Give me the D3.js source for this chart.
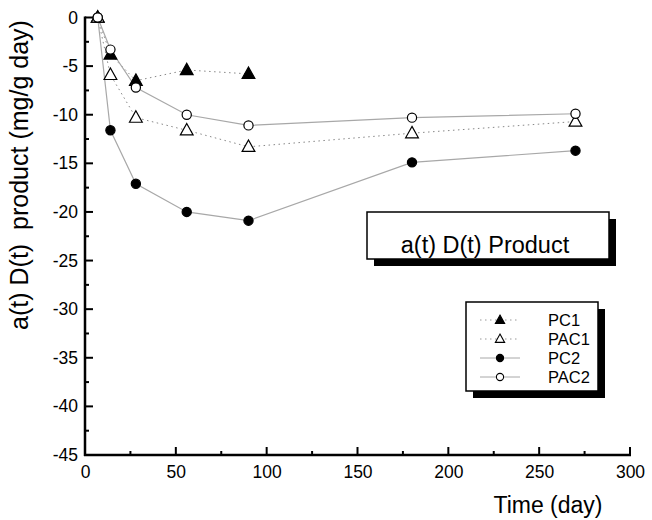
<!DOCTYPE html>
<html>
<head>
<meta charset="utf-8">
<script src="https://cdn.jsdelivr.net/npm/d3@7"></script>
<style>
  body { margin: 0; background: #fff; }
  svg { display: block; font-family: "Liberation Sans", Arial, sans-serif; }
</style>
</head>
<body>
<div class="chart"></div>
<script>
// 데이터
const days = [7, 14, 28, 56, 90, 180, 270];
const seriesNames = ['PC1', 'PAC1', 'PC2', 'PAC2'];
const pc1 = [0, -3.8, -6.5, -5.4, -5.8];
const pac1 = [0, -5.9, -10.3, -11.6, -13.3, -11.9, -10.7];
const pc2 = [0, -11.6, -17.1, -20.0, -20.9, -14.9, -13.7];
const pac2 = [0, -3.3, -7.2, -10.0, -11.1, -10.3, -9.9];
const xTicks = [0, 50, 100, 150, 200, 250, 300];
const yTicks = [0, -5, -10, -15, -20, -25, -30, -35, -40, -45];

const W = 652, H = 520;
const svg = d3.select('.chart').append('svg').attr('width', W).attr('height', H);

const x = d3.scaleLinear().domain([0, 300]).range([85, 630]);
const y = d3.scaleLinear().domain([-45, 0]).range([455, 17.5]);

// 시리즈 스타일
const styles = [
  {values: pc1, dash: '1.5,3.5', marker: 'tri', fill: '#000'},
  {values: pac1, dash: '1.5,3.5', marker: 'tri', fill: '#fff'},
  {values: pc2, dash: null, marker: 'circle', fill: '#000'},
  {values: pac2, dash: null, marker: 'circle', fill: '#fff'}
];

/******************** 선 ********************/
const line = d3.line().x(d => x(d[0])).y(d => y(d[1]));
const triPath = (s) => `M0,${-s * 0.62}L${s * 0.58},${s * 0.42}L${-s * 0.58},${s * 0.42}Z`;

styles.forEach(st => {
  const pts = st.values.map((v, i) => [days[i], v]);
  svg.append('path')
    .datum(pts)
    .attr('d', line)
    .attr('fill', 'none')
    .attr('stroke', st.dash ? '#888' : '#a8a8a8')
    .attr('stroke-width', st.dash ? 1 : 1.2)
    .attr('stroke-dasharray', st.dash);
});

/******************** 축 ********************/
const fmt = d => String(d);
const xMinor = d3.range(25, 300, 50);
const yMinor = d3.range(-42.5, 0, 5);
const x0 = x(0), yB = y(-45);

// 눈금 레이블 (d3 axis)
svg.append('g')
  .attr('transform', `translate(0,${yB})`)
  .call(d3.axisBottom(x).tickValues(xTicks).tickSize(0).tickPadding(11).tickFormat(fmt))
  .call(g => g.selectAll('.domain, .tick line').remove());
svg.append('g')
  .attr('transform', `translate(${x0},0)`)
  .call(d3.axisLeft(y).tickValues(yTicks).tickSize(0).tickPadding(7).tickFormat(fmt))
  .call(g => g.selectAll('.domain, .tick line').remove());
svg.selectAll('.tick text').attr('font-size', 17.5).attr('fill', '#000')
  .attr('font-family', '"Liberation Sans", Arial, sans-serif');

// 축선 + 안쪽 눈금선
const ax = svg.append('g').attr('stroke', '#000').attr('stroke-width', 2);
ax.append('line').attr('x1', x0 - 1).attr('x2', x(300) + 1).attr('y1', yB).attr('y2', yB).attr('stroke-width', 2.5);
ax.append('line').attr('x1', x0).attr('x2', x0).attr('y1', yB + 1).attr('y2', y(0) - 1).attr('stroke-width', 2.5);
ax.selectAll('.xt').data(xTicks.concat(xMinor)).join('line')
  .attr('x1', d => x(d)).attr('x2', d => x(d))
  .attr('y1', yB).attr('y2', d => yB - (d % 50 === 0 ? 8 : 4));
ax.selectAll('.yt').data(yTicks.concat(yMinor)).join('line')
  .attr('y1', d => y(d)).attr('y2', d => y(d))
  .attr('x1', x0).attr('x2', d => x0 + (d % 5 === 0 ? 8 : 4));

// 축 제목
svg.append('text')
  .attr('x', 548).attr('y', 513)
  .attr('text-anchor', 'middle')
  .attr('font-size', '23px')
  .text('Time (day)');
svg.append('text')
  .attr('transform', 'translate(28,175) rotate(-90)')
  .attr('text-anchor', 'middle')
  .attr('font-size', '25px')
  .style('white-space', 'pre')
  .text('a(t) D(t)  product (mg/g day)');

/******************** 마커 ********************/
styles.forEach(st => {
  const pts = st.values.map((v, i) => [days[i], v]);
  const g = svg.append('g');
  if (st.marker === 'tri') {
    g.selectAll('path').data(pts).join('path')
      .attr('transform', d => `translate(${x(d[0])},${y(d[1])})`)
      .attr('d', triPath(11))
      .attr('fill', st.fill).attr('stroke', '#000').attr('stroke-width', 1.2);
  } else {
    g.selectAll('circle').data(pts).join('circle')
      .attr('cx', d => x(d[0])).attr('cy', d => y(d[1]))
      .attr('r', 4.6)
      .attr('fill', st.fill).attr('stroke', '#000').attr('stroke-width', 1.2);
  }
});

/******************** 제목 상자 ********************/
const tb = {x: 367, y: 212, w: 242, h: 47};
svg.append('rect').attr('x', tb.x + 7).attr('y', tb.y + 7).attr('width', tb.w).attr('height', tb.h).attr('fill', '#000');
svg.append('rect').attr('x', tb.x).attr('y', tb.y).attr('width', tb.w).attr('height', tb.h)
  .attr('fill', '#fff').attr('stroke', '#000').attr('stroke-width', 1.5);
svg.append('text')
  .attr('x', 485).attr('y', 253)
  .attr('text-anchor', 'middle')
  .attr('font-size', '23.5px')
  .text('a(t) D(t) Product');

/******************** 범례 ********************/
const lb = {x: 466, y: 302, w: 132, h: 89};
svg.append('rect').attr('x', lb.x + 7).attr('y', lb.y + 7).attr('width', lb.w).attr('height', lb.h).attr('fill', '#000');
svg.append('rect').attr('x', lb.x).attr('y', lb.y).attr('width', lb.w).attr('height', lb.h)
  .attr('fill', '#fff').attr('stroke', '#000').attr('stroke-width', 1.5);

const legend = svg.append('g').selectAll('g')
  .data(styles.map((s, i) => ({...s, name: seriesNames[i], i})))
  .join('g')
  .attr('transform', d => `translate(0,${320 + d.i * 19})`);
legend.append('line')
  .attr('x1', 480).attr('x2', 520)
  .attr('stroke', d => d.dash ? '#999' : '#a8a8a8')
  .attr('stroke-width', 1)
  .attr('stroke-dasharray', d => d.dash);
legend.each(function(d) {
  const g = d3.select(this);
  if (d.marker === 'tri') {
    g.append('path').attr('transform', 'translate(500,0)').attr('d', triPath(8))
      .attr('fill', d.fill).attr('stroke', '#000').attr('stroke-width', 1.1);
  } else {
    g.append('circle').attr('cx', 500).attr('r', 3.6)
      .attr('fill', d.fill).attr('stroke', '#000').attr('stroke-width', 1.1);
  }
});
legend.append('text')
  .attr('x', 548).attr('y', 6)
  .attr('font-size', '16.5px')
  .text(d => d.name);
</script>
</body>
</html>
